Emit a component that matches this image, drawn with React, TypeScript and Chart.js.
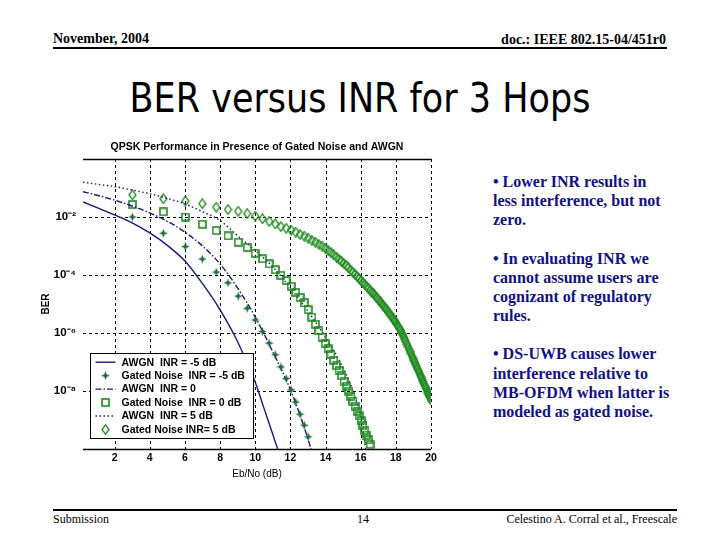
import React, { useEffect, useRef } from "react";
import { Chart, registerables } from "chart.js";

Chart.register(...registerables);

// ---------- data ----------
const xTickValues = [2, 4, 6, 8, 10, 12, 14, 16, 18, 20];
const yTickValues = [1e-2, 1e-4, 1e-6, 1e-8];
const yTickLabels = ["10⁻²", "10⁻⁴", "10⁻⁶", "10⁻⁸"];

const seriesLabels = [
  "AWGN  INR = -5 dB",
  "Gated Noise  INR = -5 dB",
  "AWGN  INR = 0",
  "Gated Noise  INR = 0 dB",
  "AWGN  INR = 5 dB",
  "Gated Noise INR= 5 dB",
];

// AWGN curves (lines): Eb/No (dB) and log10(BER)
const awgnM5X = [0.2, 1, 2, 3, 4, 5, 6, 7, 8, 9, 10, 10.5, 11, 11.3];
const awgnM5LogBer = [-1.48, -1.68, -1.93, -2.2, -2.55, -2.98, -3.52, -4.3, -5.2, -6.3, -7.7, -8.6, -9.5, -10.05];

const awgn0X = [0.2, 1, 2, 3, 4, 5, 6, 7, 8, 9, 10, 11, 12, 12.5, 13, 13.2];
const awgn0LogBer = [-1.13, -1.25, -1.42, -1.62, -1.86, -2.15, -2.52, -3.0, -3.62, -4.45, -5.45, -6.65, -7.95, -8.75, -9.65, -10.05];

const awgn5X = [0.2, 1, 2, 3, 4, 5, 6, 7, 8, 9, 10, 11, 12, 13, 14, 15, 15.5, 16, 16.3];
const awgn5LogBer = [-0.8, -0.87, -0.95, -1.07, -1.2, -1.36, -1.55, -1.82, -2.12, -2.65, -3.15, -3.72, -4.45, -5.25, -6.15, -7.2, -7.9, -8.9, -10.05];

// Gated-noise marker positions (Eb/No, dB)
const markerX = [
  3.01, 4.77, 6.02, 6.99, 7.78, 8.45, 9.03, 9.54, 10.0, 10.41,
  10.79, 11.14, 11.46, 11.76, 12.04, 12.3, 12.55, 12.79, 13.01, 13.22,
  13.42, 13.62, 13.8, 13.98, 14.15, 14.31, 14.47, 14.62, 14.77, 14.91,
  15.05, 15.19, 15.31, 15.44, 15.56, 15.68, 15.8, 15.91, 16.02, 16.13,
  16.23, 16.33, 16.43, 16.53, 16.63, 16.72, 16.81, 16.9, 16.99, 17.08,
  17.16, 17.24, 17.32, 17.4, 17.48, 17.56, 17.63, 17.71, 17.78, 17.85,
  17.92, 17.99, 18.06, 18.13, 18.2, 18.26, 18.33, 18.39, 18.45, 18.51,
  18.57, 18.63, 18.69, 18.75, 18.81, 18.86, 18.92, 18.98, 19.03, 19.08,
  19.14, 19.19, 19.24, 19.29, 19.34, 19.4, 19.44, 19.49, 19.54, 19.59,
  19.64, 19.68, 19.73, 19.78, 19.82, 19.87, 19.91, 19.96, 20.0,
];

const gatedM5LogBer = [
  -2.0, -2.56, -3.02, -3.45, -3.9, -4.27, -4.73, -5.15, -5.55, -5.95,
  -6.35, -6.75, -7.17, -7.57, -7.96, -8.38, -8.8, -9.18, -9.58,
];

const gated0LogBer = [
  -1.57, -1.82, -2.0, -2.25, -2.47, -2.65, -2.87, -3.05, -3.25, -3.44,
  -3.62, -3.82, -4.01, -4.19, -4.39, -4.6, -4.78, -4.96, -5.2, -5.45,
  -5.7, -5.93, -6.14, -6.35, -6.55, -6.75, -6.95, -7.13, -7.3, -7.48,
  -7.66, -7.83, -8.0, -8.18, -8.35, -8.52, -8.7, -8.86, -9.03, -9.2,
  -9.36, -9.52, -9.68, -9.84,
];

const gated5LogBer = [
  -1.24, -1.37, -1.45, -1.54, -1.66, -1.74, -1.8, -1.88, -1.97, -2.06,
  -2.15, -2.24, -2.33, -2.39, -2.45, -2.52, -2.6, -2.66, -2.73, -2.8,
  -2.87, -2.94, -3.0, -3.07, -3.15, -3.23, -3.31, -3.38, -3.46, -3.53,
  -3.61, -3.68, -3.75, -3.84, -3.91, -3.98, -4.05, -4.11, -4.2, -4.27,
  -4.32, -4.39, -4.45, -4.52, -4.59, -4.64, -4.7, -4.77, -4.83, -4.9,
  -4.96, -5.02, -5.08, -5.14, -5.2, -5.27, -5.33, -5.39, -5.45, -5.51,
  -5.57, -5.63, -5.7, -5.77, -5.84, -5.9, -5.97, -6.05, -6.14, -6.22,
  -6.3, -6.39, -6.47, -6.56, -6.64, -6.71, -6.8, -6.88, -6.95, -7.02,
  -7.1, -7.17, -7.24, -7.31, -7.38, -7.47, -7.52, -7.59, -7.66, -7.73,
  -7.8, -7.86, -7.93, -8.0, -8.06, -8.13, -8.18, -8.25, -8.31,
];

const bullets = [
  "• Lower INR results in\nless interference, but not\nzero.",
  "• In evaluating INR we\ncannot assume users are\ncognizant of regulatory\nrules.",
  "• DS-UWB causes lower\ninterference relative to\nMB-OFDM when latter is\nmodeled as gated noise.",
];

// ---------- styling ----------
const NAVY = "#16168c";
const GREEN = "#1f8a1f";
const STAR_GREEN = "#1b6b3a";
const SANS = "'Liberation Sans', Arial, sans-serif";
const SERIF = "'Liberation Serif', 'Times New Roman', serif";

function pts(xs: number[], logs: number[]) {
  return logs.map((l, i) => ({ x: xs[i], y: Math.pow(10, l) }));
}

function makeCanvas(w: number, h: number, draw: (c: CanvasRenderingContext2D) => void) {
  const c = document.createElement("canvas");
  c.width = w;
  c.height = h;
  const ctx = c.getContext("2d")!;
  draw(ctx);
  return c;
}

function makeStar(color: string) {
  return makeCanvas(9, 9, (c) => {
    c.fillStyle = color;
    c.beginPath();
    const cx = 4.5, cy = 4.5, ro = 4.4, ri = 1.7;
    for (let i = 0; i < 8; i++) {
      const a = (i * Math.PI) / 4 - Math.PI / 2;
      const r = i % 2 === 0 ? ro : ri;
      const px = cx + r * Math.cos(a);
      const py = cy + r * Math.sin(a);
      if (i === 0) c.moveTo(px, py);
      else c.lineTo(px, py);
    }
    c.closePath();
    c.fill();
  });
}

function makeSquare(color: string) {
  return makeCanvas(9, 9, (c) => {
    c.strokeStyle = color;
    c.lineWidth = 1.6;
    c.strokeRect(1, 1, 7, 7);
  });
}

function makeDiamond(color: string) {
  return makeCanvas(9, 11, (c) => {
    c.strokeStyle = color;
    c.lineWidth = 1.3;
    c.beginPath();
    c.moveTo(4.5, 0.8);
    c.lineTo(8, 5.5);
    c.lineTo(4.5, 10.2);
    c.lineTo(1, 5.5);
    c.closePath();
    c.stroke();
  });
}

const gridPlugin = {
  id: "gridBox",
  beforeDatasetsDraw(chart: any) {
    const { ctx, chartArea, scales } = chart;
    const { left, right, top, bottom } = chartArea;
    ctx.save();
    ctx.strokeStyle = "#000";
    ctx.lineWidth = 1;
    ctx.setLineDash([3, 3]);
    xTickValues.forEach((v) => {
      const px = Math.round(scales.x.getPixelForValue(v)) + 0.5;
      ctx.beginPath();
      ctx.moveTo(px, top);
      ctx.lineTo(px, bottom);
      ctx.stroke();
    });
    yTickValues.forEach((v) => {
      const py = Math.round(scales.y.getPixelForValue(v)) + 0.5;
      ctx.beginPath();
      ctx.moveTo(left, py);
      ctx.lineTo(right, py);
      ctx.stroke();
    });
    ctx.setLineDash([]);
    ctx.lineWidth = 1.3;
    ctx.beginPath();
    ctx.moveTo(left, Math.round(top) + 0.5);
    ctx.lineTo(right, Math.round(top) + 0.5);
    ctx.moveTo(left, Math.round(bottom) + 0.5);
    ctx.lineTo(right, Math.round(bottom) + 0.5);
    ctx.stroke();
    ctx.restore();
  },
};

const titlePlugin = {
  id: "centerTitle",
  afterDraw(chart: any) {
    const { ctx, chartArea } = chart;
    ctx.save();
    ctx.fillStyle = "#000";
    ctx.font = `bold 10.5px ${SANS}`;
    ctx.textAlign = "center";
    ctx.textBaseline = "middle";
    ctx.fillText(
      "QPSK Performance in Presence of Gated Noise and AWGN",
      (chartArea.left + chartArea.right) / 2,
      chartArea.top - 12
    );
    ctx.restore();
  },
};

const legendPlugin = {
  id: "insideLegend",
  afterDatasetsDraw(chart: any) {
    const { ctx, chartArea } = chart;
    const bx = Math.round(chartArea.left + 7) + 0.5;
    const by = Math.round(chartArea.top + 194) + 0.5;
    const bw = 163;
    const bh = 85;
    ctx.save();
    ctx.fillStyle = "#fff";
    ctx.fillRect(bx, by, bw, bh);
    ctx.strokeStyle = "#000";
    ctx.lineWidth = 1;
    ctx.strokeRect(bx, by, bw, bh);
    chart.data.datasets.forEach((ds: any, i: number) => {
      const cy = by + 8.7 + i * 13.45;
      if (ds.showLine) {
        ctx.save();
        ctx.strokeStyle = ds.borderColor;
        ctx.lineWidth = ds.borderWidth;
        ctx.setLineDash(ds.borderDash || []);
        ctx.beginPath();
        ctx.moveTo(bx + 5, cy);
        ctx.lineTo(bx + 25, cy);
        ctx.stroke();
        ctx.restore();
      } else {
        const img = ds.pointStyle as HTMLCanvasElement;
        ctx.drawImage(img, bx + 15 - img.width / 2, cy - img.height / 2);
      }
      ctx.fillStyle = "#000";
      ctx.font = `bold 10.5px ${SANS}`;
      ctx.textAlign = "left";
      ctx.textBaseline = "middle";
      ctx.fillText(ds.label, bx + 31, cy + 0.5);
    });
    ctx.restore();
  },
};

function BerChart() {
  const ref = useRef<HTMLCanvasElement | null>(null);
  useEffect(() => {
    if (!ref.current) return;
    const star = makeStar(STAR_GREEN);
    const square = makeSquare(GREEN);
    const diamond = makeDiamond(GREEN);
    const lineDs = (label: string, xs: number[], logs: number[], dash: number[]) => ({
      label,
      data: pts(xs, logs),
      showLine: true,
      borderColor: NAVY,
      backgroundColor: NAVY,
      borderWidth: 1.4,
      borderDash: dash,
      pointRadius: 0,
      cubicInterpolationMode: "monotone" as const,
    });
    const markDs = (label: string, xs: number[], logs: number[], img: HTMLCanvasElement) => ({
      label,
      data: pts(xs, logs),
      showLine: false,
      pointStyle: img,
      pointRadius: 4,
      borderColor: GREEN,
      backgroundColor: GREEN,
    });
    const chart = new Chart(ref.current, {
      type: "scatter",
      data: {
        datasets: [
          lineDs(seriesLabels[0], awgnM5X, awgnM5LogBer, []),
          markDs(seriesLabels[1], markerX.slice(0, gatedM5LogBer.length), gatedM5LogBer, star),
          lineDs(seriesLabels[2], awgn0X, awgn0LogBer, [6, 2, 1.5, 2]),
          markDs(seriesLabels[3], markerX.slice(0, gated0LogBer.length), gated0LogBer, square),
          lineDs(seriesLabels[4], awgn5X, awgn5LogBer, [1.5, 2.5]),
          markDs(seriesLabels[5], markerX.slice(0, gated5LogBer.length), gated5LogBer, diamond),
        ] as any,
      },
      options: {
        responsive: false,
        animation: false,
        events: [],
        layout: { padding: { top: 29, left: 38, right: 29, bottom: 5 } },
        plugins: {
          legend: { display: false },
          title: { display: false },
          tooltip: { enabled: false },
        },
        scales: {
          x: {
            type: "linear",
            min: 0.2,
            max: 20,
            afterBuildTicks: (s: any) => {
              s.ticks = xTickValues.map((v) => ({ value: v }));
            },
            afterFit: (s: any) => {
              s.height = 36;
            },
            grid: { display: false, drawTicks: false, tickLength: 0 },
            border: { display: false },
            ticks: {
              padding: 3,
              color: "#000",
              autoSkip: false,
              maxRotation: 0,
              font: { family: SANS, size: 10.5, weight: "bold" },
              callback: (v: any) => String(v),
            },
            title: {
              display: true,
              text: "Eb/No (dB)",
              color: "#000",
              font: { family: SANS, size: 10 },
              padding: { top: 0, bottom: 5 },
            },
          },
          y: {
            type: "logarithmic",
            min: 1e-10,
            max: 1,
            afterBuildTicks: (s: any) => {
              s.ticks = yTickValues.map((v) => ({ value: v }));
            },
            afterFit: (s: any) => {
              s.width = 45;
            },
            grid: { display: false, drawTicks: false, tickLength: 0 },
            border: { display: false },
            ticks: {
              padding: 7,
              color: "#000",
              autoSkip: false,
              font: { family: SANS, size: 11.5, weight: "bold" },
              callback: (_v: any, i: number) => yTickLabels[i],
            },
            title: {
              display: true,
              text: "BER",
              color: "#000",
              font: { family: SANS, size: 10, weight: "bold" },
              padding: { top: 2, bottom: 0 },
            },
          },
        },
      } as any,
      plugins: [gridPlugin, legendPlugin, titlePlugin],
    });
    return () => chart.destroy();
  }, []);
  return (
    <canvas
      ref={ref}
      width={460}
      height={360}
      style={{ position: "absolute", left: 0, top: 130, width: 460, height: 360 }}
    />
  );
}

export default function App() {
  return (
    <div
      style={{
        position: "absolute",
        left: 0,
        top: 0,
        width: 720,
        height: 540,
        background: "#fff",
        overflow: "hidden",
      }}
    >
      <div
        style={{
          position: "absolute", left: 53, top: 32, fontFamily: SERIF, fontWeight: "bold",
          fontSize: 14, lineHeight: "14px", color: "#000", whiteSpace: "nowrap",
        }}
      >
        November, 2004
      </div>
      <div
        style={{
          position: "absolute", right: 720 - 666, top: 33, fontFamily: SERIF, fontWeight: "bold",
          fontSize: 14, lineHeight: "14px", color: "#000", whiteSpace: "nowrap",
        }}
      >
        doc.: IEEE 802.15-04/451r0
      </div>
      <div style={{ position: "absolute", left: 53, top: 47, width: 614, height: 2, background: "#000" }} />
      <div
        style={{
          position: "absolute", left: 0, width: 720, top: 83, textAlign: "center",
          fontFamily: "'DejaVu Sans', sans-serif", fontSize: 35, lineHeight: "35px", color: "#000",
          whiteSpace: "nowrap", transform: "scaleY(1.15)", transformOrigin: "50% 29.6px",
        }}
      >
        BER versus INR for 3 Hops
      </div>
      <BerChart />
      <div
        style={{
          position: "absolute", left: 493, top: 172, fontFamily: SERIF, fontWeight: "bold",
          fontSize: 16, lineHeight: "19.15px", color: "#10108a", whiteSpace: "pre",
        }}
      >
        {bullets.join("\n\n")}
      </div>
      <div style={{ position: "absolute", left: 53, top: 509, width: 624, height: 2, background: "#000" }} />
      <div
        style={{
          position: "absolute", left: 53, top: 513, fontFamily: SERIF, fontSize: 12,
          lineHeight: "12px", color: "#000", whiteSpace: "nowrap",
        }}
      >
        Submission
      </div>
      <div
        style={{
          position: "absolute", left: 357, top: 513, fontFamily: SERIF, fontSize: 12,
          lineHeight: "12px", color: "#000", whiteSpace: "nowrap",
        }}
      >
        14
      </div>
      <div
        style={{
          position: "absolute", right: 720 - 677, top: 513, fontFamily: SERIF, fontSize: 12,
          lineHeight: "12px", color: "#000", whiteSpace: "nowrap",
        }}
      >
        Celestino A. Corral et al., Freescale
      </div>
    </div>
  );
}
